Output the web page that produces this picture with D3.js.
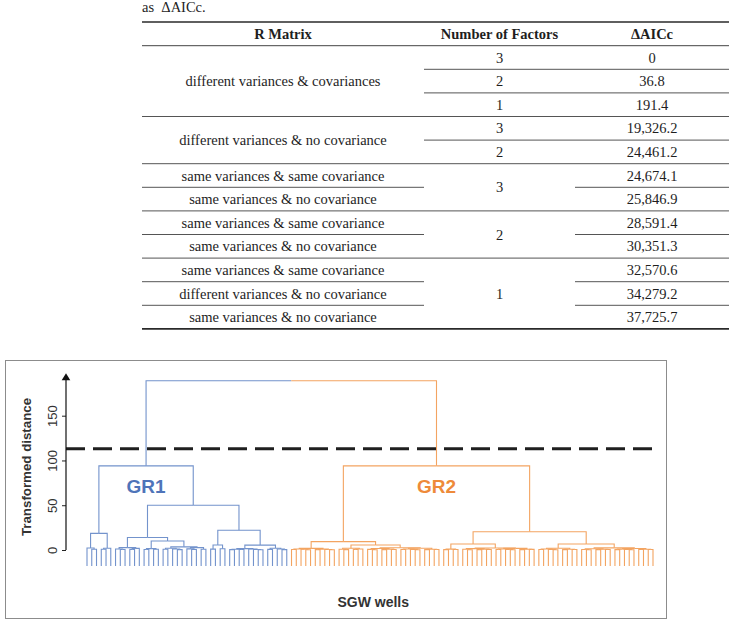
<!DOCTYPE html>
<html><head><meta charset="utf-8">
<script src="https://cdn.jsdelivr.net/npm/d3@7"></script>
<style>
html,body{margin:0;padding:0;background:#fff;}
svg{display:block;}
</style></head>
<body>
<svg id="chart" width="737" height="626"></svg>
<script>
// ---------- Table data ----------
const introText = "as  \u0394AICc.";
const tableHeaders = ["R Matrix", "Number of Factors", "\u0394AICc"];
const rMatrix = [
  "different variances & covariances",
  "different variances & covariances",
  "different variances & covariances",
  "different variances & no covariance",
  "different variances & no covariance",
  "same variances & same covariance",
  "same variances & no covariance",
  "same variances & same covariance",
  "same variances & no covariance",
  "same variances & same covariance",
  "different variances & no covariance",
  "same variances & no covariance"
];
const numFactors = [3, 2, 1, 3, 2, 3, 3, 2, 2, 1, 1, 1];
const deltaAICc = [0, 36.8, 191.4, 19326.2, 24461.2, 24674.1, 25846.9, 28591.4, 30351.3, 32570.6, 34279.2, 37725.7];

// ---------- Dendrogram data: node = [height, left, right], leaf = 0 ----------
const gr1A   = [18.6, [2.2, 0, [0.8, 0, 0]], [2.0, [0.9, 0, 0], 0]];
const gr1C1  = [2.6, [1.2, 0, [0.5, 0, 0]], [1.8, [0.7, 0, 0], 0]];
const gr1C2L = [1.5, [0.6, 0, 0], [0.9, 0, 0]];
const gr1C2R = [3.5, [2.0, [0.8, 0, 0], [1.1, 0, [0.4, 0, 0]]], [2.7, [1.3, 0, [0.5, 0, 0]], [0.9, 0, 0]]];
const gr1D1  = [5.6, [1.0, 0, 0], [1.4, 0, 0]];
const gr1D2L = [1.5, [0.9, [0.4, 0, 0], [0.6, 0, 0]], [1.1, 0, [0.5, 0, [0.3, 0, 0]]]];
const gr1D2R = [2.0, [0.7, 0, 0], [1.2, 0, [0.4, 0, 0]]];
const gr1 = [94, gr1A, [50, [14, gr1C1, [10, gr1C2L, gr1C2R]], [22, gr1D1, [5.4, gr1D2L, gr1D2R]]]];

const gr2E1  = [1.8, [1.2, [0.5, 0, 0], [0.8, 0, [0.3, 0, 0]]], [1.0, [0.4, 0, 0], [0.6, 0, [0.3, 0, 0]]]];
const gr2E2L = [2.0, [0.8, 0, [0.4, 0, 0]], [1.1, [0.5, 0, 0], 0]];
const gr2E2R = [2.5, [1.6, [0.7, 0, [0.3, 0, 0]], [1.0, [0.4, 0, 0], [0.5, 0, 0]]], [1.9, [1.2, [0.5, 0, 0], [0.7, 0, [0.3, 0, 0]]], [0.9, [0.4, 0, 0], [0.6, 0, 0]]]];
const gr2F1L = [1.0, [0.4, 0, 0], [0.6, 0, 0]];
const gr2F1R = [2.2, [1.5, [0.8, 0, [0.3, 0, 0]], [1.0, [0.4, 0, 0], [0.5, 0, 0]]], [1.8, [1.1, [0.5, 0, 0], [0.6, 0, [0.3, 0, 0]]], [0.9, [0.4, 0, 0], [0.7, 0, 0]]]];
const gr2F2L = [2.0, [1.2, [0.5, 0, 0], [0.7, 0, [0.3, 0, 0]]], [0.9, [0.4, 0, 0], [0.6, 0, 0]]];
const gr2F2R = [2.4, [1.4, [0.6, 0, [0.3, 0, 0]], [0.9, [0.4, 0, 0], [0.5, 0, 0]]], [1.7, [1.0, [0.4, 0, 0], [0.6, 0, [0.3, 0, 0]]], [0.8, [0.5, 0, 0], [0.6, 0, 0]]]];
const gr2 = [94, [9.3, gr2E1, [5.6, gr2E2L, gr2E2R]], [20.4, [6.7, gr2F1L, gr2F1R], [6.7, gr2F2L, gr2F2R]]];

const rootHeight = 189;
const groupNames = ["GR1", "GR2"];
const groupLineColors = ["#7393cc", "#f3a461"];
const groupTextColors = ["#4f74b9", "#ee8a3a"];
const cutHeight = 113;
const leafBottom = -18;
const yTicks = [0, 50, 100, 150];
const yTitle = "Transformed distance";
const xTitle = "SGW wells";

// ---------- Drawing ----------
const svg = d3.select("#chart");

// Table
const colEdges = [142, 424, 575, 729];
const colCenter = i => (colEdges[i] + colEdges[i + 1]) / 2;
const topRule = 22, headRule = 45.7, rowH = 23.6;
const rowCenter = i => headRule + rowH * (i + 0.5);
const tFont = "'Liberation Serif','Times New Roman',serif";
const tColor = "#1e1e1e";
const tSize = 14.5;

svg.append("text").attr("x", 142).attr("y", 12).attr("font-family", tFont)
  .attr("font-size", tSize).attr("fill", tColor).attr("xml:space", "preserve").text(introText);

svg.append("line").attr("x1", colEdges[0]).attr("x2", colEdges[3]).attr("y1", topRule).attr("y2", topRule)
  .attr("stroke", "#2a2a2a").attr("stroke-width", 1.6);
tableHeaders.forEach((h, i) => {
  svg.append("text").attr("x", colCenter(i)).attr("y", (topRule + headRule) / 2)
    .attr("dy", "0.35em").attr("text-anchor", "middle").attr("font-family", tFont)
    .attr("font-weight", "bold").attr("font-size", tSize).attr("fill", tColor).text(h);
});
svg.append("line").attr("x1", colEdges[0]).attr("x2", colEdges[3]).attr("y1", headRule).attr("y2", headRule)
  .attr("stroke", "#444").attr("stroke-width", 1);

const nRows = deltaAICc.length;
const fmt = v => v === 0 ? "0" : d3.format(",.1f")(v);
const columns = [rMatrix, numFactors, deltaAICc.map(fmt)];
columns.forEach((col, ci) => {
  // merge runs of equal consecutive cells in first two columns
  let start = 0;
  for (let r = 1; r <= nRows; r++) {
    const same = ci < 2 && r < nRows && col[r] === col[start];
    if (!same) {
      const end = r - 1;
      svg.append("text").attr("x", colCenter(ci)).attr("y", (rowCenter(start) + rowCenter(end)) / 2)
        .attr("dy", "0.35em").attr("text-anchor", "middle").attr("font-family", tFont)
        .attr("font-size", tSize).attr("fill", tColor).text(col[start]);
      const yy = headRule + rowH * (end + 1);
      const last = end === nRows - 1;
      svg.append("line").attr("x1", colEdges[ci]).attr("x2", colEdges[ci + 1]).attr("y1", yy).attr("y2", yy)
        .attr("stroke", last ? "#2a2a2a" : "#555").attr("stroke-width", last ? 1.6 : 1);
      start = r;
    }
  }
});

// Dendrogram frame
svg.append("rect").attr("x", 5.5).attr("y", 360.5).attr("width", 661).attr("height", 258)
  .attr("fill", "#fff").attr("stroke", "#8c8c8c").attr("stroke-width", 1);

const root = d3.hierarchy([rootHeight, gr1, gr2], d => Array.isArray(d) ? d.slice(1) : null);
const nLeaves = root.leaves().length;
d3.cluster().size([nLeaves, 1]).separation(() => 1)(root);

const x = d3.scaleLinear().domain([0.5, nLeaves - 0.5]).range([87, 653]);
const y = d3.scaleLinear().domain([0, 150]).range([550, 415.7]);
const hOf = n => Array.isArray(n.data) ? n.data[0] : leafBottom;

root.children.forEach((g, gi) => { g.each(n => n.group = gi); });

svg.append("g").selectAll("path").data(root.descendants().filter(n => n.parent))
  .join("path")
  .attr("d", n => `M${x(n.x)},${y(hOf(n))}V${y(hOf(n.parent))}H${x(n.parent.x)}`)
  .attr("fill", "none").attr("stroke", n => groupLineColors[n.group]).attr("stroke-width", 1.1);

// cut line
svg.append("line").attr("x1", 66).attr("x2", 653).attr("y1", y(cutHeight)).attr("y2", y(cutHeight))
  .attr("stroke", "#1f1f1f").attr("stroke-width", 3).attr("stroke-dasharray", "19,8");

// y axis
const sans = "'Liberation Sans',Arial,sans-serif";
const ax = svg.append("g").attr("transform", "translate(66,0)")
  .call(d3.axisLeft(y).tickValues(yTicks).tickSize(4).tickSizeOuter(0));
ax.select(".domain").remove();
ax.selectAll(".tick line").attr("stroke", "#222");
ax.selectAll(".tick text").attr("x", null).attr("dy", null)
  .attr("transform", "translate(-9.5,0) rotate(-90)").attr("text-anchor", "middle")
  .attr("font-family", sans).attr("font-size", 13).attr("fill", "#333");
svg.append("line").attr("x1", 66).attr("x2", 66).attr("y1", y(0)).attr("y2", y(190))
  .attr("stroke", "#111").attr("stroke-width", 1.2);
svg.append("path").attr("d", `M66,${y(197.5)}L61.7,${y(189.5)}L70.3,${y(189.5)}Z`).attr("fill", "#111");

svg.append("text").attr("transform", "translate(31,467) rotate(-90)").attr("text-anchor", "middle")
  .attr("font-family", sans).attr("font-weight", "bold").attr("font-size", 13.3).attr("fill", "#333").text(yTitle);
svg.append("text").attr("x", 409).attr("y", 606.5).attr("text-anchor", "end")
  .attr("font-family", sans).attr("font-weight", "bold").attr("font-size", 14).attr("fill", "#333").text(xTitle);

// group labels
root.children.forEach((g, gi) => {
  svg.append("text").attr("x", x(g.x)).attr("y", y(71)).attr("dy", "0.36em").attr("text-anchor", "middle")
    .attr("font-family", sans).attr("font-weight", "bold").attr("font-size", 19)
    .attr("fill", groupTextColors[gi]).text(groupNames[gi]);
});
</script>
</body></html>
